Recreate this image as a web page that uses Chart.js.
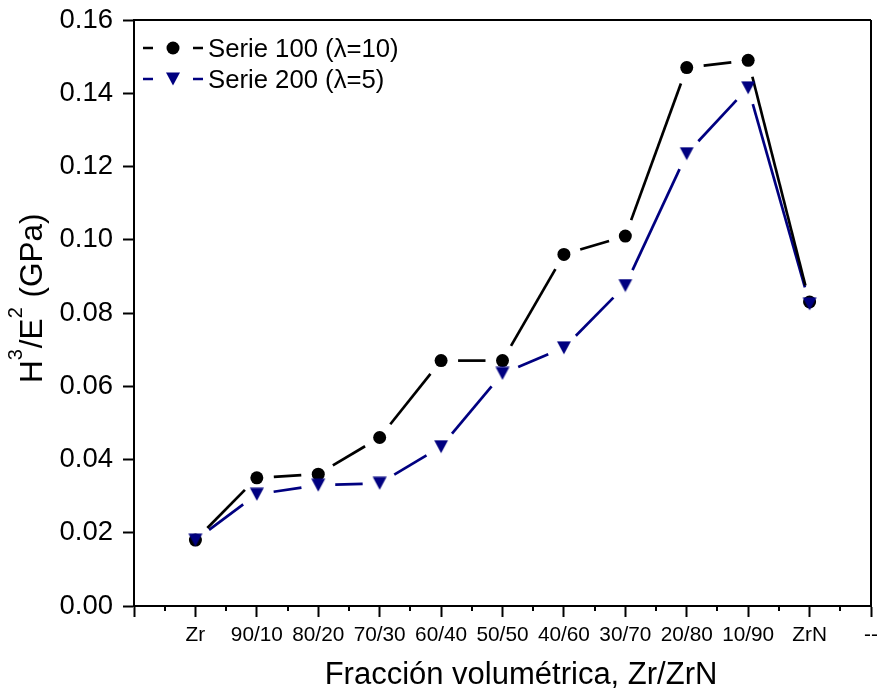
<!DOCTYPE html>
<html>
<head>
<meta charset="utf-8">
<script src="https://cdn.jsdelivr.net/npm/chart.js@4/dist/chart.umd.min.js"></script>
<style>
  html, body { margin: 0; padding: 0; background: #fff; }
  #wrap { width: 880px; height: 693px; }
</style>
</head>
<body>
<div id="wrap"><canvas id="c" width="880" height="693"></canvas></div>
<script>
// Tick labels along the composition axis (first slot blank, last is "--")
const xTickLabels = ['', 'Zr', '90/10', '80/20', '70/30', '60/40', '50/50', '40/60', '30/70', '20/80', '10/90', 'ZrN', '--'];
// Measured compositions, Zr/ZrN volume fraction
const categories = ['Zr', '90/10', '80/20', '70/30', '60/40', '50/50', '40/60', '30/70', '20/80', '10/90', 'ZrN'];
// H^3/E^2 (GPa)
const serie100 = [0.018, 0.035, 0.036, 0.046, 0.067, 0.067, 0.096, 0.101, 0.147, 0.149, 0.083];
const serie200 = [0.018, 0.0305, 0.033, 0.0335, 0.0435, 0.0635, 0.0705, 0.0875, 0.1235, 0.1415, 0.0825];
const yTickValues = [0, 0.02, 0.04, 0.06, 0.08, 0.10, 0.12, 0.14, 0.16];
const seriesNames = ['Serie 100 (\u03bb=10)', 'Serie 200 (\u03bb=5)'];

const NAVY = '#000080';
const FONT = '"Liberation Sans", Arial, sans-serif';

// Down-pointing triangle marker, centred on its bounding box
function makeTriangle(color) {
  const cv = document.createElement('canvas');
  cv.width = 16; cv.height = 14;
  const g = cv.getContext('2d');
  g.fillStyle = color;
  g.beginPath();
  g.moveTo(1, 0.5); g.lineTo(15, 0.5); g.lineTo(8, 13.5); g.closePath();
  g.fill();
  return cv;
}
const triMarker = makeTriangle(NAVY);

const toPoints = vals => categories.map((c, i) => ({ x: xTickLabels.indexOf(c), y: vals[i] }));

// Lines that stop short of each marker
const GAP = 17;
const gappedLines = {
  id: 'gappedLines',
  beforeDatasetsDraw(chart) {
    const ctx = chart.ctx;
    ctx.save();
    chart.data.datasets.forEach((ds, di) => {
      const pts = chart.getDatasetMeta(di).data;
      ctx.strokeStyle = ds.lineColor;
      ctx.lineWidth = 2.7;
      ctx.lineCap = 'butt';
      for (let i = 0; i < pts.length - 1; i++) {
        const a = pts[i], b = pts[i + 1];
        const dx = b.x - a.x, dy = b.y - a.y;
        const len = Math.hypot(dx, dy);
        if (len <= 2 * GAP) continue;
        const ux = dx / len, uy = dy / len;
        ctx.beginPath();
        ctx.moveTo(a.x + ux * GAP, a.y + uy * GAP);
        ctx.lineTo(b.x - ux * GAP, b.y - uy * GAP);
        ctx.stroke();
      }
    });
    ctx.restore();
  }
};

// Frame, minor ticks, axis titles and the inset legend
const decorations = {
  id: 'decorations',
  afterDraw(chart) {
    const ctx = chart.ctx;
    const a = chart.chartArea;
    const xs = chart.scales.x;
    ctx.save();
    ctx.strokeStyle = '#000';
    ctx.lineWidth = 2;
    ctx.beginPath();
    ctx.moveTo(a.left, a.top); ctx.lineTo(a.right, a.top);
    ctx.moveTo(a.right, a.top); ctx.lineTo(a.right, a.bottom);
    ctx.stroke();

    // minor ticks halfway between categories
    ctx.beginPath();
    for (let i = 0; i < xTickLabels.length - 1; i++) {
      const px = Math.round(xs.getPixelForValue(i + 0.5));
      ctx.moveTo(px, a.bottom); ctx.lineTo(px, a.bottom + 5);
    }
    ctx.stroke();

    ctx.fillStyle = '#000';
    // x title
    ctx.font = '31px ' + FONT;
    ctx.textAlign = 'center';
    ctx.textBaseline = 'alphabetic';
    ctx.fillText('Fracci\u00f3n volum\u00e9trica, Zr/ZrN', 521, 684);

    // y title with superscripts
    ctx.save();
    ctx.translate(42, 383);
    ctx.rotate(-Math.PI / 2);
    ctx.textAlign = 'left';
    const parts = [['H', false], ['3', true], ['/E', false], ['2', true], [' (GPa)', false]];
    let cx = 0;
    parts.forEach(([t, sup]) => {
      ctx.font = (sup ? '20px ' : '31.5px ') + FONT;
      ctx.fillText(t, cx, sup ? -20 : 0);
      cx += ctx.measureText(t).width + (sup ? 1 : 0);
    });
    ctx.restore();

    // legend
    const rows = [
      { y: 48, base: 56.5, color: '#000', marker: 'circle' },
      { y: 79, base: 88, color: NAVY, marker: 'tri' }
    ];
    rows.forEach((r, i) => {
      ctx.strokeStyle = r.color;
      ctx.lineWidth = 2.7;
      ctx.beginPath();
      ctx.moveTo(143, r.y); ctx.lineTo(153, r.y);
      ctx.moveTo(193, r.y); ctx.lineTo(203, r.y);
      ctx.stroke();
      if (r.marker === 'circle') {
        ctx.fillStyle = '#000';
        ctx.beginPath(); ctx.arc(173, r.y, 6.5, 0, Math.PI * 2); ctx.fill();
      } else {
        ctx.drawImage(triMarker, 173 - 8, r.y - 7);
      }
      ctx.fillStyle = '#000';
      ctx.font = '25.7px ' + FONT;
      ctx.textAlign = 'left';
      ctx.textBaseline = 'alphabetic';
      ctx.fillText(seriesNames[i], 208, r.base);
    });
    ctx.restore();
  }
};

new Chart(document.getElementById('c'), {
  type: 'line',
  data: {
    datasets: [
      {
        label: seriesNames[1],
        data: toPoints(serie200),
        showLine: false,
        lineColor: NAVY,
        pointStyle: triMarker,
        pointRadius: 8,
        pointHoverRadius: 8,
        backgroundColor: NAVY,
        borderColor: NAVY
      },
      {
        label: seriesNames[0],
        data: toPoints(serie100),
        showLine: false,
        lineColor: '#000',
        pointStyle: 'circle',
        pointRadius: 6.5,
        pointHoverRadius: 6.5,
        pointBorderWidth: 0,
        backgroundColor: '#000',
        borderColor: '#000'
      }
    ]
  },
  options: {
    responsive: false,
    animation: false,
    devicePixelRatio: 1,
    clip: false,
    layout: { padding: { left: 0, top: 20, right: 7, bottom: 0 } },
    plugins: { legend: { display: false }, tooltip: { enabled: false } },
    scales: {
      x: {
        type: 'linear',
        min: 0, max: xTickLabels.length - 1,
        afterBuildTicks: s => { s.ticks = xTickLabels.map((_, i) => ({ value: i })); },
        afterFit: s => { s.height = 87; s.paddingLeft = 0; s.paddingRight = 0; },
        ticks: {
          autoSkip: false, maxRotation: 0, minRotation: 0, padding: 6,
          color: '#000', font: { family: FONT, size: 20.8 },
          callback: v => xTickLabels[v]
        },
        grid: { drawOnChartArea: false, drawTicks: true, tickLength: 11, tickWidth: 2, tickColor: '#000' },
        border: { display: true, color: '#000', width: 2 },
        title: { display: false }
      },
      y: {
        min: 0, max: 0.16,
        afterBuildTicks: s => { s.ticks = yTickValues.map(v => ({ value: v })); },
        afterFit: s => { s.width = 134; s.paddingTop = 0; s.paddingBottom = 0; },
        ticks: {
          padding: 10, color: '#000', font: { family: FONT, size: 27.5 },
          callback: v => v.toFixed(2)
        },
        grid: { drawOnChartArea: false, drawTicks: true, tickLength: 11, tickWidth: 2, tickColor: '#000' },
        border: { display: true, color: '#000', width: 2 },
        title: { display: false }
      }
    }
  },
  plugins: [gappedLines, decorations]
});
</script>
</body>
</html>
